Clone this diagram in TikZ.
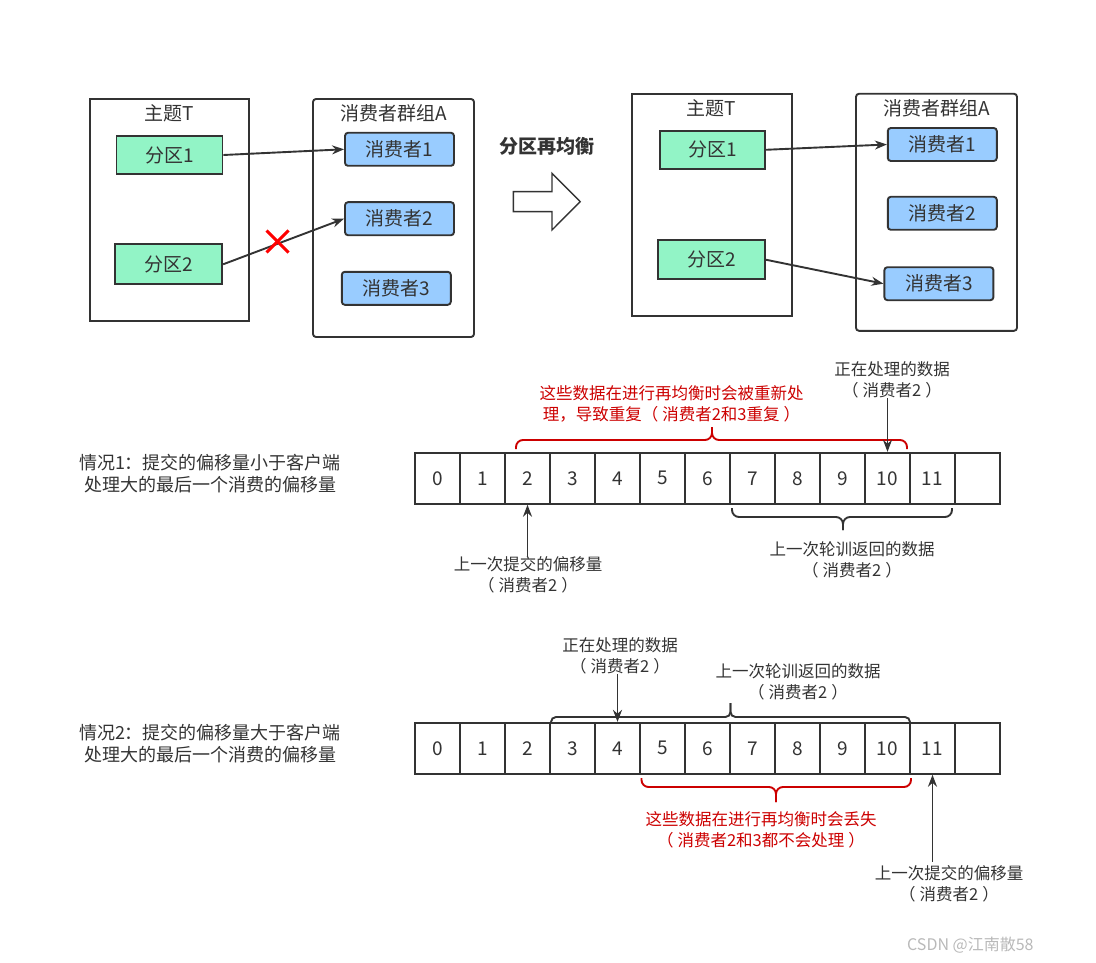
\documentclass[tikz,border=0pt]{standalone}
\usepackage{fontspec}
\setmainfont{Noto Sans CJK SC}
\usetikzlibrary{arrows.meta}
\definecolor{ink}{HTML}{333333}
\definecolor{pgreen}{HTML}{92F4C6}
\definecolor{cblue}{HTML}{99CCFF}
\definecolor{dred}{HTML}{CC0000}
\definecolor{xred}{HTML}{FF0000}
\newcommand{\pL}{（\kern4pt}
\newcommand{\pR}{\kern4pt）}
\begin{document}
\begin{tikzpicture}[x=1pt,y=-1pt,
  base/.style={draw=ink, line width=1.9pt, inner sep=0pt, text=ink},
  topicbox/.style={base},
  groupbox/.style={base, rounded corners=3pt},
  titletext/.style={text=ink, inner sep=0pt, font=\fontsize{19}{22}\selectfont},
  part/.style={base, fill=pgreen, font=\fontsize{19}{22}\selectfont},
  cons/.style={base, fill=cblue, rounded corners=3pt, minimum width=109, minimum height=33, font=\fontsize{19}{22}\selectfont},
  cell/.style={base, minimum width=45, minimum height=51, font=\fontsize{19}{22}\selectfont},
  conn/.style={draw=ink, line width=1.9pt, -{Stealth[length=12pt,width=9pt]}},
  note/.style={text=ink, inner sep=0pt, align=center, font=\fontsize{16.5}{21}\selectfont},
  rednote/.style={note, text=dred},
  casenote/.style={text=ink, inner sep=0pt, align=center, font=\fontsize{18}{22}\selectfont},
  bracepath/.style={line width=1.9pt, rounded corners=7pt},
]
\useasboundingbox (0,0) rectangle (1096,963);

% ---------- top left ----------
\node[topicbox, minimum width=159, minimum height=222] (topicL) at (169.5,210) {};
\node[titletext] (topicLt) at (169.5,113) {主题T};
\node[groupbox, minimum width=161, minimum height=238] (groupL) at (393.5,218) {};
\node[titletext] (groupLt) at (393.5,113) {消费者群组A};
\node[part, minimum width=106, minimum height=38] (p1L) at (169.5,155) {分区1};
\node[part, minimum width=107, minimum height=40] (p2L) at (168.7,264.3) {分区2};
\node[cons] (c1L) at (399.5,149.3) {消费者1};
\node[cons] (c2L) at (399.5,218.7) {消费者2};
\node[cons] (c3L) at (396.3,288.3) {消费者3};
\draw[conn] (p1L.east) -- (c1L.west);
\draw[conn] (p2L.east) -- (c2L.west);
\coordinate (xm) at (277.5,241.5);
\draw[xred, line width=3pt] ([shift={(-11,-11)}]xm) -- ([shift={(11,11)}]xm);
\draw[xred, line width=3pt] ([shift={(-11,11)}]xm) -- ([shift={(11,-11)}]xm);

% ---------- middle ----------
\node[text=ink, inner sep=0pt, font=\fontsize{19}{22}\selectfont\bfseries] (rebal) at (546.8,146.7) {分区再均衡};
\draw[ink, line width=1.4pt, fill=white] (513.4,191.7) -- (552,191.7) -- (552,173.3) -- (580.2,201.7) -- (552,230) -- (552,211.7) -- (513.4,211.7) -- cycle;

% ---------- top right ----------
\node[topicbox, minimum width=160, minimum height=222] (topicR) at (712.3,205) {};
\node[titletext] (topicRt) at (711,108) {主题T};
\node[groupbox, minimum width=161, minimum height=237] (groupR) at (936.5,212.3) {};
\node[titletext] (groupRt) at (936.5,108) {消费者群组A};
\node[part, minimum width=105, minimum height=38] (p1R) at (712.3,149.8) {分区1};
\node[part, minimum width=107, minimum height=39] (p2R) at (711.3,259.7) {分区2};
\node[cons] (c1R) at (942.3,144.5) {消费者1};
\node[cons] (c2R) at (942.3,213.3) {消费者2};
\node[cons] (c3R) at (938.9,283.7) {消费者3};
\draw[conn] (p1R.east) -- (c1R.west);
\draw[conn] (p2R.east) -- (c3R.west);

% ---------- arrays ----------
\foreach \i in {0,...,12} {
  \node[cell] (a\i) at ({437.5+45*\i},478.3) {\ifnum\i<12 \i\fi};
  \node[cell] (b\i) at ({437.5+45*\i},748.3) {\ifnum\i<12 \i\fi};
}

% ---------- case 1 ----------
\node[casenote] (case1) at (210,474) {情况1：提交的偏移量小于客户端\\处理大的最后一个消费的偏移量};
\node[rednote] (n1d) at (671.5,404) {这些数据在进行再均衡时会被重新处\\理，导致重复\pL 消费者2和3重复\pR};
\draw[dred, bracepath] (516,449) -- (516,440) -- (712,440) -- (712,427);
\draw[dred, bracepath] (907,449) -- (907,440) -- (712,440) -- (712,427);
\node[note] (n1p) at (892,379.5) {正在处理的数据\\\pL 消费者2\pR};
\draw[conn] (n1p.south -| a10.north) -- (a10.north);
\node[note] (n1c) at (528,575) {上一次提交的偏移量\\\pL 消费者2\pR};
\draw[conn] (n1c.north -| a2.south) -- (a2.south);
\draw[ink, bracepath] (732,508) -- (732,517) -- (843,517) -- (843,530);
\draw[ink, bracepath] (952,508) -- (952,517) -- (843,517) -- (843,530);
\node[note] (n1r) at (852,560) {上一次轮训返回的数据\\\pL 消费者2\pR};

% ---------- case 2 ----------
\node[casenote] (case2) at (210,744) {情况2：提交的偏移量大于客户端\\处理大的最后一个消费的偏移量};
\node[note] (n2p) at (620,655.5) {正在处理的数据\\\pL 消费者2\pR};
\node[note] (n2r) at (798,682) {上一次轮训返回的数据\\\pL 消费者2\pR};
\draw[ink, bracepath, rounded corners=5pt] (551,723) -- (551,717) -- (730.5,717) -- (730.5,703);
\draw[ink, bracepath, rounded corners=5pt] (910,723) -- (910,717) -- (730.5,717) -- (730.5,703);
\draw[conn] (n2p.south -| b4.north) -- (b4.north);
\draw[dred, bracepath] (641.5,778) -- (641.5,787) -- (776,787) -- (776,802);
\draw[dred, bracepath] (911,778) -- (911,787) -- (776,787) -- (776,802);
\node[rednote] (n2d) at (761,829.5) {这些数据在进行再均衡时会丢失\\\pL 消费者2和3都不会处理\pR};
\node[note] (n2c) at (949,884) {上一次提交的偏移量\\\pL 消费者2\pR};
\draw[conn] ([yshift=4pt]n2c.north -| b11.south) -- (b11.south);

% ---------- watermark ----------
\node[text=gray!55, inner sep=0pt, anchor=west, font=\fontsize{16}{16}\selectfont] (wm) at (907,945) {CSDN @江南散58};
\end{tikzpicture}
\end{document}
